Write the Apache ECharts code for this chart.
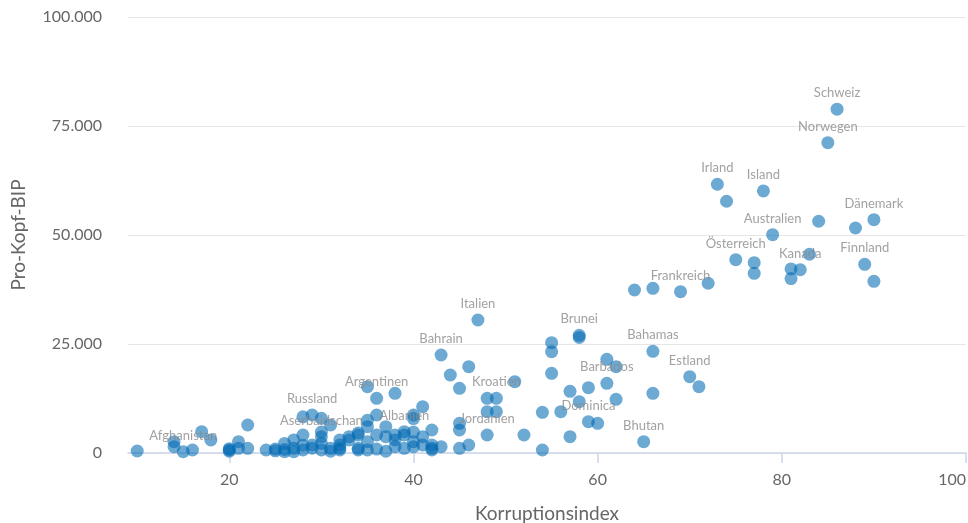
<!DOCTYPE html>
<html>
<head>
<meta charset="utf-8">
<script src="https://cdn.jsdelivr.net/npm/echarts@6/dist/echarts.min.js"></script>
<style>html,body{margin:0;padding:0;background:#fff}#c{width:968px;height:523px}</style>
</head>
<body>
<div id="c"></div>
<script>
// Korruptionsindex (x), Pro-Kopf-BIP (y), country label ('' = no label)
const korruption = [
  10, 14, 14, 15, 16, 17, 18,
  20, 20, 20, 21, 21, 22, 22, 24, 25, 25, 26, 26, 26,
  27, 27, 27, 28, 28, 28, 28, 29, 29, 29,
  30, 30, 30, 30, 30, 31, 31, 31, 32, 32, 32, 32, 33, 33,
  34, 34, 34, 34, 35, 35, 35, 35, 35, 36, 36, 36, 36,
  37, 37, 37, 38, 38, 38, 38, 39, 39, 39,
  40, 40, 40, 40, 40, 41, 41, 41, 42, 42, 42, 42, 43, 43,
  44, 45, 45, 45, 45, 46, 46, 47, 48, 48, 48, 49, 49,
  51, 52, 54, 54, 55, 55, 55, 56, 57, 57, 58, 58, 58,
  59, 59, 60, 61, 61, 62, 62, 64, 65, 66, 66, 66,
  69, 70, 71, 72, 73, 74, 75, 77, 77, 78, 79,
  81, 81, 82, 83, 84, 85, 86, 88, 89, 90, 90
];
const bip = [
  460, 2600, 1450, 300, 690, 4890, 2980,
  400, 700, 1000, 2600, 1080, 6420, 1080, 690, 500, 900, 2200, 800, 300,
  1100, 300, 3000, 8300, 4100, 1800, 700, 8720, 1100, 1840,
  7960, 3700, 2200, 700, 4800, 6420, 400, 1080, 1100, 3000, 700, 1840, 3740, 2980,
  4600, 1100, 690, 4130, 15200, 6040, 700, 2600, 7500, 12550, 8720, 4130, 900,
  6040, 400, 3740, 13690, 4130, 1450, 2980, 4890, 4130, 1080,
  8720, 7900, 1450, 4800, 2600, 10620, 3740, 1840, 5280, 1840, 690, 1080, 22480, 1450,
  17890, 14840, 6810, 5280, 1080, 19800, 1840, 30510, 12550, 9470, 4130, 12550, 9470,
  16360, 4130, 9330, 690, 25300, 23240, 18280, 9470, 14150, 3740, 27000, 26500, 11770,
  14980, 7180, 6810, 21490, 15990, 19800, 12320, 37390, 2600, 37780, 23330, 13690,
  37000, 17500, 15210, 38930, 61640, 57740, 44350, 43660, 41220, 60100, 50080,
  42210, 40000, 42050, 45580, 53150, 71180, 78850, 51600, 43280, 53520, 39380
];
const laender = [
  '', '', '', 'Afghanistan', '', '', '',
  '', '', '', '', '', '', '', '', '', '', '', '', '',
  '', '', '', '', '', '', '', 'Russland', '', '',
  '', 'Aserbaidschan', '', '', '', '', '', '', '', '', '', '', '', '',
  '', '', '', '', '', '', '', '', '', 'Argentinen', '', '', '',
  '', '', '', '', '', '', '', 'Albanien', '', '',
  '', '', '', '', '', '', '', '', '', '', '', '', 'Bahrain', '',
  '', '', '', '', '', '', '', 'Italien', '', '', 'Jordanien', 'Kroatien', '',
  '', '', '', '', '', '', '', '', '', '', 'Brunei', '', '',
  '', 'Dominica', '', '', 'Barbados', '', '', '', 'Bhutan', '', 'Bahamas', '',
  'Frankreich', 'Estland', '', '', 'Irland', '', 'Österreich', '', '', 'Island', 'Australien',
  '', '', 'Kanada', '', '', 'Norwegen', 'Schweiz', '', 'Finnland', 'Dänemark', ''
];
const xTicks = [20, 40, 60, 80, 100];
const yTicks = [0, 25000, 50000, 75000, 100000];

const points = korruption.map((x, i) => ({ value: [x, bip[i]], name: laender[i] }));
const fmt = v => String(v).replace(/\B(?=(\d{3})+(?!\d))/g, '.');
const FONT = 'Lato, "Noto Sans", sans-serif';

const chart = echarts.init(document.getElementById('c'), null, { renderer: 'canvas' });
chart.setOption({
  animation: false,
  textStyle: { fontFamily: FONT },
  grid: { left: 128, right: 2, top: 17, bottom: 70, containLabel: false, outerBoundsMode: 'none' },
  xAxis: {
    type: 'value', min: 9, max: 100,
    name: 'Korruptionsindex', nameLocation: 'middle', nameGap: 51,
    nameTextStyle: { color: '#666', fontSize: 19, fontFamily: FONT },
    axisLine: { show: true, lineStyle: { color: '#ccd6eb', width: 1.5 } },
    axisTick: { show: true, length: 10, customValues: xTicks, lineStyle: { color: '#ccd6eb', width: 1.5 } },
    axisLabel: { customValues: xTicks, color: '#666', fontSize: 16, margin: 19, fontFamily: FONT, alignMaxLabel: 'right' },
    splitLine: { show: false }
  },
  yAxis: {
    type: 'value', min: 0, max: 100000, interval: 25000,
    name: 'Pro-Kopf-BIP', nameLocation: 'middle', nameGap: 100,
    nameTextStyle: { color: '#666', fontSize: 19, fontFamily: FONT },
    axisLine: { show: false }, axisTick: { show: false },
    axisLabel: { color: '#666', fontSize: 16, margin: 26, fontFamily: FONT, formatter: fmt },
    splitLine: { show: true, lineStyle: { color: '#e6e6e6', width: 1 } }
  },
  series: [{
    type: 'scatter',
    data: points,
    symbol: 'circle',
    symbolSize: 13,
    itemStyle: { color: 'rgba(0,106,179,0.72)' },
    label: {
      show: true, position: 'top', distance: 3,
      formatter: p => p.name || '',
      color: '#8a8a8a', fontSize: 13, fontFamily: FONT
    },
    labelLayout: { hideOverlap: false },
    emphasis: { disabled: true }
  }]
});
</script>
</body>
</html>
